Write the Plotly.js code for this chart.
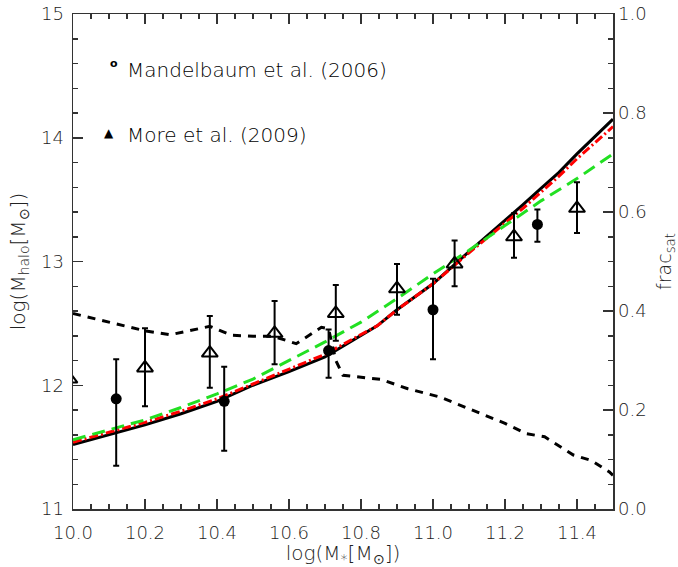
<!DOCTYPE html>
<html>
<head>
<meta charset="utf-8">
<script src="https://cdn.plot.ly/plotly-3.0.1.min.js"></script>
<style>html,body{margin:0;padding:0;background:#fff;}#chart{width:678px;height:567px;}</style>
</head>
<body>
<div id="chart"></div>
<script>
// Model curves: log(M*) grid
const modelX = [10.0, 10.1, 10.2, 10.3, 10.4, 10.5, 10.6, 10.7, 10.8, 10.845, 10.9, 11.0, 11.1, 11.2, 11.25, 11.3, 11.35, 11.4, 11.45, 11.5];
const blackHalo = [11.52, 11.60, 11.68, 11.77, 11.87, 12.00, 12.11, 12.23, 12.40, 12.48, 12.61, 12.82, 13.08, 13.33, 13.46, 13.59, 13.72, 13.87, 14.01, 14.15];
const redHalo   = [11.54, 11.62, 11.70, 11.79, 11.89, 12.01, 12.13, 12.25, 12.41, 12.48, 12.61, 12.82, 13.07, 13.31, 13.43, 13.56, 13.69, 13.83, 13.96, 14.09];
const greenX = [10.0, 10.1, 10.2, 10.3, 10.4, 10.5, 10.6, 10.7, 10.8, 10.9, 11.0, 11.1, 11.2, 11.3, 11.4, 11.5];
const greenHalo = [11.56, 11.64, 11.72, 11.82, 11.93, 12.05, 12.20, 12.35, 12.51, 12.70, 12.90, 13.09, 13.29, 13.49, 13.67, 13.87];

// Satellite fraction (right axis)
const fracX = [10.0, 10.056, 10.14, 10.2, 10.27, 10.38, 10.44, 10.5, 10.556, 10.62, 10.69, 10.71, 10.73, 10.75, 10.855, 10.93, 11.02, 11.11, 11.2, 11.26, 11.31, 11.39, 11.44, 11.49, 11.5];
const fracSat = [0.395, 0.385, 0.371, 0.360, 0.352, 0.369, 0.351, 0.349, 0.349, 0.334, 0.367, 0.364, 0.30, 0.270, 0.262, 0.243, 0.226, 0.200, 0.173, 0.152, 0.146, 0.109, 0.098, 0.075, 0.068];

// Mandelbaum et al. (2006)
const mandX = [10.12, 10.42, 10.71, 11.0, 11.29];
const mandY = [11.89, 11.87, 12.28, 12.61, 13.30];
const mandHi = [12.21, 12.15, 12.45, 12.86, 13.42];
const mandLo = [11.35, 11.47, 12.06, 12.21, 13.16];

// More et al. (2009)
const moreX = [9.99, 10.2, 10.38, 10.56, 10.73, 10.9, 11.06, 11.225, 11.40];
const moreY = [12.05, 12.14, 12.26, 12.42, 12.58, 12.78, 12.98, 13.20, 13.43];
const moreHi = [12.05, 12.46, 12.56, 12.68, 12.81, 12.98, 13.17, 13.39, 13.64];
const moreLo = [12.05, 11.83, 11.98, 12.17, 12.36, 12.57, 12.80, 13.03, 13.23];

const xTickVals = [10.0, 10.2, 10.4, 10.6, 10.8, 11.0, 11.2, 11.4];
const xTickText = ['10.0', '10.2', '10.4', '10.6', '10.8', '11.0', '11.2', '11.4'];
const yTickVals = [11, 12, 13, 14, 15];
const y2TickVals = [0, 0.2, 0.4, 0.6, 0.8, 1.0];
const y2TickText = ['0.0', '0.2', '0.4', '0.6', '0.8', '1.0'];

const legendLabels = ['Mandelbaum et al. (2006)', 'More et al. (2009)'];

const diff = (a, b) => a.map((v, i) => v - b[i]);

const FONT = '"DejaVu Sans", sans-serif';
const AX = '#222';
const W = 200;
const tf = (s, c, w) => ({family: FONT, size: s, color: c || AX, weight: w || W});

const traces = [
  {x: fracX, y: fracSat, yaxis: 'y2', mode: 'lines', line: {color: '#000', width: 3, dash: '8px,7px'}, hoverinfo: 'skip'},
  {x: modelX, y: blackHalo, mode: 'lines', line: {color: '#000', width: 3}, hoverinfo: 'skip'},
  {x: modelX, y: redHalo, mode: 'lines', line: {color: '#ff0000', width: 3, dash: '9px,3px,2px,3px'}, hoverinfo: 'skip'},
  {x: greenX, y: greenHalo, mode: 'lines', line: {color: '#22e022', width: 3, dash: '13px,7px'}, hoverinfo: 'skip'},
  {x: mandX, y: mandY, mode: 'markers',
   marker: {symbol: 'circle', size: 11, color: '#000'},
   error_y: {type: 'data', symmetric: false, array: diff(mandHi, mandY), arrayminus: diff(mandY, mandLo), color: '#000', thickness: 2, width: 3}},
  {x: moreX, y: moreY, mode: 'markers',
   marker: {symbol: 'triangle-up-open', size: 14, color: '#000', line: {width: 2, color: '#000'}},
   error_y: {type: 'data', symmetric: false, array: diff(moreHi, moreY), arrayminus: diff(moreY, moreLo), color: '#000', thickness: 2, width: 3}}
];

const layout = {
  width: 678, height: 567,
  margin: {l: 73, r: 65, t: 14, b: 58},
  showlegend: false,
  paper_bgcolor: '#fff', plot_bgcolor: '#fff',
  font: tf(18),
  xaxis: {
    range: [10.0, 11.5], tickvals: xTickVals, ticktext: xTickText,
    ticks: 'inside', ticklen: 10, tickwidth: 1.5, tickcolor: '#333',
    minor: {dtick: 0.05, tick0: 10.0, ticks: 'inside', ticklen: 5, tickwidth: 1.5, tickcolor: '#333', showgrid: false},
    showline: true, linecolor: '#333', linewidth: 1.5, mirror: 'ticks',
    showgrid: false, zeroline: false, ticklabelstandoff: 7,
    tickfont: tf(18),
    title: {text: 'log(M<sub>*</sub>[M<sub>⊙</sub>])', font: tf(20), standoff: 5}
  },
  yaxis: {
    range: [11, 15], tickvals: yTickVals,
    ticks: 'inside', ticklen: 10, tickwidth: 1.5, tickcolor: '#333',
    minor: {dtick: 0.2, tick0: 11, ticks: 'inside', ticklen: 5, tickwidth: 1.5, tickcolor: '#333', showgrid: false},
    showline: true, linecolor: '#333', linewidth: 1.5,
    showgrid: false, zeroline: false, ticklabelstandoff: 4,
    tickfont: tf(18),
    title: {text: 'log(M<sub>halo</sub>[M<sub>⊙</sub>])', font: tf(20), standoff: 10}
  },
  yaxis2: {
    range: [0, 1], tickvals: y2TickVals, ticktext: y2TickText,
    overlaying: 'y', side: 'right',
    ticks: 'inside', ticklen: 10, tickwidth: 1.5, tickcolor: '#333',
    minor: {dtick: 0.05, tick0: 0, ticks: 'inside', ticklen: 5, tickwidth: 1.5, tickcolor: '#333', showgrid: false},
    showline: true, linecolor: '#333', linewidth: 1.5,
    showgrid: false, zeroline: false,
    tickfont: tf(18),
    title: {text: 'frac<sub>sat</sub>', font: tf(19), standoff: 12}
  },
  annotations: [
    {xref: 'paper', yref: 'paper', x: 0.0759, y: 0.901, xanchor: 'center', yanchor: 'middle', showarrow: false,
     text: 'o', font: tf(11, '#000', 700)},
    {xref: 'paper', yref: 'paper', x: 0.096, y: 0.887, xanchor: 'left', yanchor: 'middle', showarrow: false,
     text: legendLabels[0], font: tf(20, '#000')},
    {xref: 'paper', yref: 'paper', x: 0.0667, y: 0.7596, xanchor: 'center', yanchor: 'middle', showarrow: false,
     text: '▲', font: tf(12, '#000', 700)},
    {xref: 'paper', yref: 'paper', x: 0.096, y: 0.756, xanchor: 'left', yanchor: 'middle', showarrow: false,
     text: legendLabels[1], font: tf(20, '#000')}
  ]
};

Plotly.newPlot('chart', traces, layout, {staticPlot: true, displayModeBar: false});
</script>
</body>
</html>
